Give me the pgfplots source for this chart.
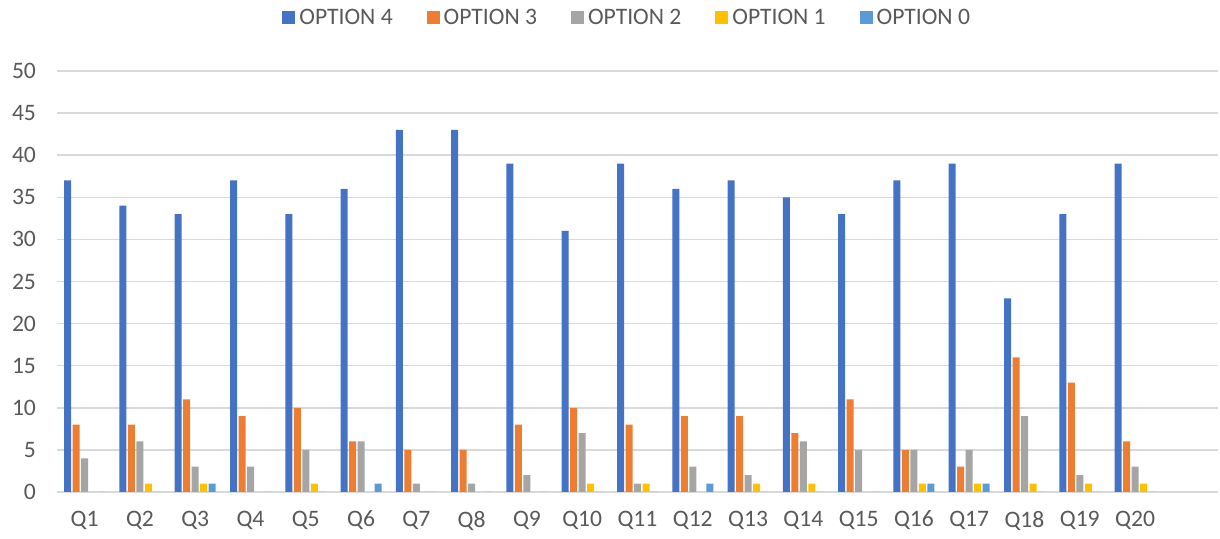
\documentclass[border=0pt]{standalone}
\usepackage{pgfplots}
\pgfplotsset{compat=1.18}
\usepackage{fontspec}
\setmainfont{Carlito}
\definecolor{cfour}{HTML}{4472C4}
\definecolor{cthree}{HTML}{ED7D31}
\definecolor{ctwo}{HTML}{A5A5A5}
\definecolor{cone}{HTML}{FFC000}
\definecolor{czero}{HTML}{5B9BD5}
\definecolor{gridc}{HTML}{D9D9D9}
\definecolor{tickc}{HTML}{595959}
\pgfplotsset{sq/.style={draw=none, legend image code/.code={\fill (0pt,-3.25pt) rectangle (6.5pt,3.25pt);}}}
\begin{document}
\begin{tikzpicture}
\useasboundingbox (-28.5pt,-23.5pt) rectangle (581.5pt,246pt);
\begin{axis}[
  at={(0,0)}, anchor=south west,
  scale only axis, width=580.5pt, height=210.5pt,
  ybar=0.75pt, bar width=3.5pt,
  xmin=-0.5, xmax=20.5, ymin=0, ymax=50,
  xtick={0,...,19},
  xticklabels={Q1,Q2,Q3,Q4,Q5,Q6,Q7,Q8,Q9,Q10,Q11,Q12,Q13,Q14,Q15,Q16,Q17,Q18,Q19,Q20},
  ytick={0,5,...,50},
  ymajorgrids, grid style={draw=gridc, line width=0.75pt},
  axis line style={draw=none},
  major tick length=0pt, tick style={draw=none},
  ticklabel style={font=\fontsize{11.8}{14}\selectfont, text=tickc},
  /pgf/number format/assume math mode=true,
  yticklabel style={xshift=-7pt},
  xticklabel style={yshift=-6pt},
  legend style={at={(rel axis cs:0.492,1.126)}, anchor=center, draw=none, fill=none,
    font=\fontsize{11.8}{14}\selectfont, text=tickc,
    /tikz/every even column/.append style={column sep=15pt}},
  legend columns=-1,
]
\addplot[sq, fill=cfour] coordinates {(0,37)(1,34)(2,33)(3,37)(4,33)(5,36)(6,43)(7,43)(8,39)(9,31)(10,39)(11,36)(12,37)(13,35)(14,33)(15,37)(16,39)(17,23)(18,33)(19,39)};
\addplot[sq, fill=cthree] coordinates {(0,8)(1,8)(2,11)(3,9)(4,10)(5,6)(6,5)(7,5)(8,8)(9,10)(10,8)(11,9)(12,9)(13,7)(14,11)(15,5)(16,3)(17,16)(18,13)(19,6)};
\addplot[sq, fill=ctwo] coordinates {(0,4)(1,6)(2,3)(3,3)(4,5)(5,6)(6,1)(7,1)(8,2)(9,7)(10,1)(11,3)(12,2)(13,6)(14,5)(15,5)(16,5)(17,9)(18,2)(19,3)};
\addplot[sq, fill=cone] coordinates {(0,0)(1,1)(2,1)(3,0)(4,1)(5,0)(6,0)(7,0)(8,0)(9,1)(10,1)(11,0)(12,1)(13,1)(14,0)(15,1)(16,1)(17,1)(18,1)(19,1)};
\addplot[sq, fill=czero] coordinates {(0,0)(1,0)(2,1)(3,0)(4,0)(5,1)(6,0)(7,0)(8,0)(9,0)(10,0)(11,1)(12,0)(13,0)(14,0)(15,1)(16,1)(17,0)(18,0)(19,0)};
\legend{OPTION 4,OPTION 3,OPTION 2,OPTION 1,OPTION 0}
\end{axis}
\end{tikzpicture}
\end{document}
